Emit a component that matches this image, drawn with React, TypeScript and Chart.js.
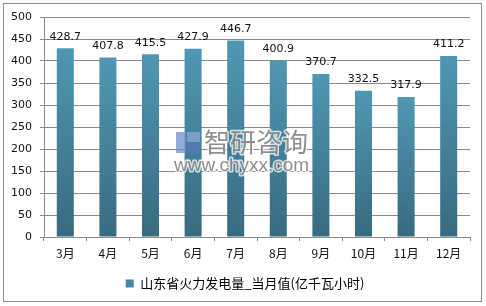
import React, { useEffect, useRef } from "react";
import { Chart, registerables } from "chart.js";

Chart.register(...registerables);

const categories = ["3月", "4月", "5月", "6月", "7月", "8月", "9月", "10月", "11月", "12月"];
const values = [428.7, 407.8, 415.5, 427.9, 446.7, 400.9, 370.7, 332.5, 317.9, 411.2];
const seriesName = "山东省火力发电量_当月值(亿千瓦小时)";
const yTicks = [0, 50, 100, 150, 200, 250, 300, 350, 400, 450, 500];

const TOP_COLOR = "#5097b2";
const BOTTOM_COLOR = "#396a80";
const LEGEND_COLOR = "#4887a1";
const GRID_COLOR = "#8a8a8a";
const NUM_FONT = "DejaVu Sans";
const CJK_FONT = "'Noto Sans CJK SC', 'DejaVu Sans'";

const framePlugin = {
  id: "frame",
  beforeDraw(chart: any) {
    const ctx = chart.ctx;
    ctx.save();
    ctx.fillStyle = "#ffffff";
    ctx.fillRect(0, 0, chart.width, chart.height);
    ctx.strokeStyle = "#8c8c8c";
    ctx.lineWidth = 1;
    ctx.strokeRect(3.5, 3.5, 478, 298);
    ctx.restore();
  },
};

const legendShiftPlugin = {
  id: "legendShift",
  afterLayout(chart: any) {
    const lg = chart.legend;
    if (lg) {
      lg.left += 10;
      lg.right += 10;
    }
  },
};

const watermarkPlugin = {
  id: "watermark",
  afterDatasetsDraw(chart: any) {
    const ctx = chart.ctx;
    ctx.save();
    ctx.globalAlpha = 0.75;
    ctx.lineJoin = "round";
    ctx.fillStyle = "#6f8fc8";
    ctx.fillRect(176, 132, 10, 21);
    ctx.fillStyle = "#8aa8d8";
    ctx.fillRect(187, 132, 13, 10);
    ctx.fillStyle = "#5a7ab8";
    ctx.fillRect(187, 143, 13, 10);
    ctx.font = `26px ${CJK_FONT}`;
    ctx.textAlign = "left";
    ctx.textBaseline = "middle";
    ctx.strokeStyle = "#ffffff";
    ctx.lineWidth = 3;
    ctx.strokeText("智研咨询", 204, 142);
    ctx.fillStyle = "#6a6a6a";
    ctx.fillText("智研咨询", 204, 142);
    ctx.font = `19px 'Liberation Sans'`;
    ctx.strokeText("www.chyxx.com", 174, 166);
    ctx.fillStyle = "#6a6a6a";
    ctx.fillText("www.chyxx.com", 174, 166);
    ctx.restore();
  },
};

const labelPlugin = {
  id: "barLabels",
  afterDatasetsDraw(chart: any) {
    const ctx = chart.ctx;
    const meta = chart.getDatasetMeta(0);
    ctx.save();
    ctx.font = `11px ${NUM_FONT}`;
    ctx.fillStyle = "#111111";
    ctx.textAlign = "center";
    ctx.textBaseline = "bottom";
    meta.data.forEach((bar: any, i: number) => {
      ctx.fillText(String(values[i].toFixed(1)), bar.x, bar.y - 6);
    });
    ctx.restore();
  },
};

export default function App() {
  const ref = useRef<HTMLCanvasElement | null>(null);

  useEffect(() => {
    if (!ref.current) return;
    const chart = new Chart(ref.current, {
      type: "bar",
      data: {
        labels: categories,
        datasets: [
          {
            label: seriesName,
            data: values,
            backgroundColor: (c: any) => {
              const ch = c.chart;
              const y = ch.scales?.y;
              if (!y || c.type !== "data") return LEGEND_COLOR;
              const top = y.getPixelForValue(c.parsed.y);
              const bottom = y.getPixelForValue(0);
              const g = ch.ctx.createLinearGradient(0, top, 0, bottom);
              g.addColorStop(0, TOP_COLOR);
              g.addColorStop(1, BOTTOM_COLOR);
              return g;
            },
            borderWidth: 0,
            barPercentage: 0.4,
            categoryPercentage: 1,
          },
        ],
      },
      options: {
        animation: false,
        responsive: false,
        devicePixelRatio: 1,
        layout: { padding: { top: 17, right: 16, left: 0, bottom: 6 } },
        plugins: {
          tooltip: { enabled: false },
          legend: {
            position: "bottom",
            labels: {
              font: { family: CJK_FONT, size: 13 },
              color: "#111111",
              boxWidth: 8,
              boxHeight: 8,
              padding: 10,
              generateLabels: () => [
                {
                  text: seriesName,
                  fillStyle: LEGEND_COLOR,
                  strokeStyle: LEGEND_COLOR,
                  lineWidth: 0,
                  hidden: false,
                  datasetIndex: 0,
                },
              ],
            },
          },
        },
        scales: {
          x: {
            grid: {
              display: true,
              offset: true,
              drawOnChartArea: false,
              drawTicks: true,
              tickLength: 4,
              color: GRID_COLOR,
            },
            border: { display: true, color: GRID_COLOR },
            ticks: {
              font: { family: CJK_FONT, size: 12 },
              color: "#111111",
              padding: 5,
              maxRotation: 0,
            },
            afterFit: (s: any) => {
              s.height = 30;
            },
          },
          y: {
            min: 0,
            max: 500,
            afterBuildTicks: (s: any) => {
              s.ticks = yTicks.map((v) => ({ value: v }));
            },
            grid: {
              color: GRID_COLOR,
              tickLength: 4,
              drawTicks: true,
            },
            border: { display: true, color: GRID_COLOR },
            ticks: {
              font: { family: NUM_FONT, size: 11 },
              color: "#111111",
              padding: 8,
            },
            afterFit: (s: any) => {
              s.width = 44;
            },
          },
        },
      },
      plugins: [framePlugin, legendShiftPlugin, watermarkPlugin, labelPlugin],
    });
    return () => chart.destroy();
  }, []);

  return (
    <div style={{ position: "fixed", left: 0, top: 0, width: 486, height: 306 }}>
      <canvas ref={ref} width={486} height={306} style={{ width: 486, height: 306 }} />
    </div>
  );
}
